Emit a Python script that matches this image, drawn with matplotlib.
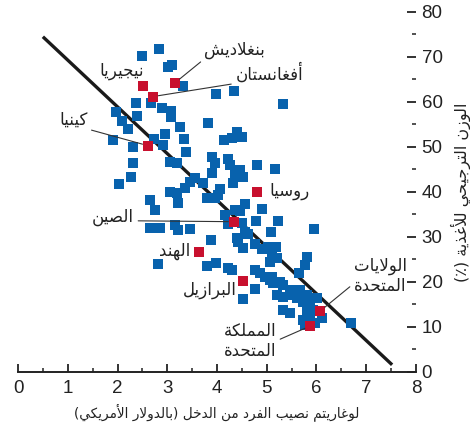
import matplotlib
matplotlib.use("Agg")
import matplotlib.pyplot as plt
from matplotlib.ticker import MultipleLocator

# ---- data ----
blue_x = [2.83, 2.49, 3.02, 3.10, 3.32, 3.98, 4.34, 5.33, 2.37, 2.67, 2.89, 3.08, 3.08,
          1.97, 2.39, 2.09, 2.21, 3.26, 3.82, 1.91, 2.31, 2.73, 2.95, 2.91, 3.34, 3.38,
          4.14, 4.30, 4.40, 4.50, 2.31, 2.27, 2.03, 3.06, 3.20, 3.90, 3.96, 3.90, 4.22,
          4.26, 4.80, 5.17, 4.36, 4.46, 4.52, 4.32, 3.56, 3.46, 3.72, 3.36, 3.06, 3.20,
          4.06, 4.02, 3.80, 3.96, 2.65, 2.75, 3.22, 4.56, 4.46, 4.36, 4.90, 4.16, 4.22,
          2.65, 2.85, 3.16, 3.22, 3.46, 4.78, 5.23, 4.50, 4.56, 4.62, 5.09, 5.95, 3.88,
          4.40, 4.42, 4.52, 4.76, 4.90, 5.03, 5.19, 5.11, 5.21, 5.07, 5.81, 5.77, 5.65,
          2.81, 3.80, 3.98, 4.22, 4.30, 4.76, 4.86, 4.96, 5.11, 5.07, 5.27, 5.33, 5.13,
          4.76, 4.52, 5.47, 5.67, 5.21, 5.33, 5.47, 5.61, 5.81, 5.91, 6.01, 5.73, 5.87,
          5.93, 5.81, 6.11, 5.33, 5.47, 5.73, 5.87, 5.77, 5.97, 6.69]
blue_y = [71.8, 70.2, 67.8, 68.2, 63.6, 61.8, 62.4, 59.6, 59.8, 59.8, 58.7, 58.0, 56.7,
          57.8, 56.9, 55.8, 54.0, 54.4, 55.3, 51.6, 50.0, 51.8, 52.9, 50.4, 51.8, 48.9,
          51.6, 52.0, 53.3, 52.2, 46.4, 43.3, 41.8, 46.7, 46.4, 47.8, 46.4, 44.2, 47.3,
          46.0, 46.0, 45.1, 44.2, 44.9, 43.3, 42.0, 43.1, 42.2, 42.0, 40.9, 40.0, 39.8,
          40.7, 39.3, 38.7, 38.7, 38.2, 36.0, 37.6, 37.3, 35.8, 36.0, 36.2, 34.9, 32.9,
          32.0, 32.0, 32.7, 31.6, 31.8, 33.6, 33.6, 33.1, 31.1, 30.7, 31.1, 31.8, 29.3,
          29.8, 28.9, 27.6, 28.4, 27.3, 27.8, 27.8, 26.4, 25.3, 24.4, 25.6, 23.8, 22.0,
          24.0, 23.6, 24.2, 23.1, 22.7, 22.7, 22.0, 21.1, 21.1, 20.4, 20.0, 19.3, 19.8,
          18.4, 16.2, 18.2, 18.2, 17.1, 16.7, 17.1, 16.4, 17.1, 16.4, 16.4, 15.6, 14.9,
          13.8, 13.3, 12.0, 13.8, 13.1, 11.6, 11.6, 10.4, 10.9, 10.9]

countries = ["بنغلاديش", "أفغانستان", "نيجيريا", "كينيا", "روسيا", "الصين",
             "الهند", "البرازيل", "الولايات\nالمتحدة", "المملكة\nالمتحدة"]
red_x = [3.16, 2.71, 2.51, 2.61, 4.80, 4.34, 3.63, 4.52, 6.08, 5.87]
red_y = [64.3, 61.2, 63.6, 50.3, 40.1, 33.4, 26.7, 20.3, 13.6, 10.2]

line_x = [0.5, 7.52]
line_y = [74.5, 1.6]

xlabel = "لوغاريتم نصيب الفرد من الدخل (بالدولار الأمريكي)"
ylabel = "الوزن الترجيحي للأغذية (٪)"

# ---- minimal arabic shaping (matplotlib has no bidi/shaping) ----
_base = {
    'ء': (0xFE80, 1), 'آ': (0xFE81, 2), 'أ': (0xFE83, 2), 'ؤ': (0xFE85, 2),
    'إ': (0xFE87, 2), 'ئ': (0xFE89, 4), 'ا': (0xFE8D, 2), 'ب': (0xFE8F, 4),
    'ة': (0xFE93, 2), 'ت': (0xFE95, 4), 'ث': (0xFE99, 4), 'ج': (0xFE9D, 4),
    'ح': (0xFEA1, 4), 'خ': (0xFEA5, 4), 'د': (0xFEA9, 2), 'ذ': (0xFEAB, 2),
    'ر': (0xFEAD, 2), 'ز': (0xFEAF, 2), 'س': (0xFEB1, 4), 'ش': (0xFEB5, 4),
    'ص': (0xFEB9, 4), 'ض': (0xFEBD, 4), 'ط': (0xFEC1, 4), 'ظ': (0xFEC5, 4),
    'ع': (0xFEC9, 4), 'غ': (0xFECD, 4), 'ف': (0xFED1, 4), 'ق': (0xFED5, 4),
    'ك': (0xFED9, 4), 'ل': (0xFEDD, 4), 'م': (0xFEE1, 4), 'ن': (0xFEE5, 4),
    'ه': (0xFEE9, 4), 'و': (0xFEED, 2), 'ى': (0xFEEF, 2), 'ي': (0xFEF1, 4),
}
_lamalef = {'آ': 0xFEF5, 'أ': 0xFEF7, 'إ': 0xFEF9, 'ا': 0xFEFB}
_mirror = {'(': ')', ')': '('}


def shape_line(s):
    toks = []
    i = 0
    while i < len(s):
        c = s[i]
        if c == 'ل' and i + 1 < len(s) and s[i + 1] in _lamalef:
            toks.append((_lamalef[s[i + 1]], 2))
            i += 2
        elif c in _base:
            toks.append(_base[c])
            i += 1
        else:
            toks.append(c)
            i += 1
    out = []
    for k, t in enumerate(toks):
        if isinstance(t, str):
            out.append(_mirror.get(t, t))
            continue
        code, n = t
        prev = toks[k - 1] if k > 0 else None
        nxt = toks[k + 1] if k + 1 < len(toks) else None
        lp = n >= 2 and isinstance(prev, tuple) and prev[1] == 4
        ln = n == 4 and isinstance(nxt, tuple) and nxt[1] >= 2
        if lp and ln:
            idx = 3
        elif lp:
            idx = 1
        elif ln:
            idx = 2
        else:
            idx = 0
        out.append(chr(code + idx))
    return ''.join(reversed(out))


def ar(s):
    return '\n'.join(shape_line(l) for l in s.split('\n'))


# ---- plot ----
blue = '#0862ad'
red = '#c8102e'
num_font = ['Liberation Sans Narrow', 'Liberation Sans', 'DejaVu Sans']
ar_font = ['DejaVu Sans']

fig = plt.figure(figsize=(4.7, 4.3), dpi=100)
ax = fig.add_axes([0.0383, 0.1349, 0.8468, 0.8372])

ax.plot(line_x, line_y, color='#1a1a1a', lw=2.4, solid_capstyle='butt', zorder=2)
ax.scatter(blue_x, blue_y, marker='s', s=52, color=blue, linewidths=0, zorder=3)
ax.scatter(red_x, red_y, marker='s', s=52, color=red, linewidths=0, zorder=4)

# label placement: (text x, text y, leader?, relpos)
place = [
    (4.36, 71.6, True, (0.0, 0.0)),
    (5.05, 66.4, True, (0.0, 0.0)),
    (2.09, 66.9, False, None),
    (1.11, 56.0, True, (1.0, 0.0)),
    (5.45, 40.2, False, None),
    (1.91, 34.4, True, (1.0, 0.3)),
    (3.15, 26.9, False, None),
    (3.86, 18.2, False, None),
    (7.28, 21.3, True, (0.0, 0.3)),
    (4.66, 6.9, True, (1.0, 0.5)),
]
for name, px, py, (tx, ty, lead, rp) in zip(countries, red_x, red_y, place):
    kw = {}
    if lead:
        kw['arrowprops'] = dict(arrowstyle='-', color='#333333', lw=0.8,
                                shrinkA=1, shrinkB=4, relpos=rp)
    ax.annotate(ar(name), xy=(px, py), xytext=(tx, ty), ha='center', va='center',
                fontsize=12, family=ar_font, color='#222222',
                linespacing=1.1, zorder=5, **kw)

ax.set_xlim(0, 8)
ax.set_ylim(0, 80)
for s in ['left', 'top', 'right']:
    ax.spines[s].set_visible(False)
ax.spines['bottom'].set_linewidth(1.4)
ax.spines['bottom'].set_color('#222222')

ax.xaxis.set_major_locator(MultipleLocator(1))
ax.xaxis.set_minor_locator(MultipleLocator(0.5))
ax.yaxis.set_major_locator(MultipleLocator(10))
ax.yaxis.set_minor_locator(MultipleLocator(5))
ax.yaxis.tick_right()
ax.yaxis.set_label_position('right')

ax.tick_params(axis='x', which='major', direction='in', length=6, width=1.3,
               pad=6, labelsize=13.5, colors='#222222')
ax.tick_params(axis='x', which='minor', direction='in', length=3, width=1.1,
               colors='#222222')
ax.tick_params(axis='y', which='major', direction='in', length=6.5, width=1.3,
               pad=4, labelsize=13.5, colors='#222222')
ax.tick_params(axis='y', which='minor', direction='in', length=3, width=1.1,
               colors='#222222')
for lab in ax.get_xticklabels() + ax.get_yticklabels():
    lab.set_family(num_font)

ax.set_xlabel(ar(xlabel), family=ar_font, fontsize=9.8, color='#222222', labelpad=4)
ax.set_ylabel(ar(ylabel), family=ar_font, fontsize=11.5, color='#222222',
              rotation=90, labelpad=6)

fig.savefig('out.png', dpi=100)
